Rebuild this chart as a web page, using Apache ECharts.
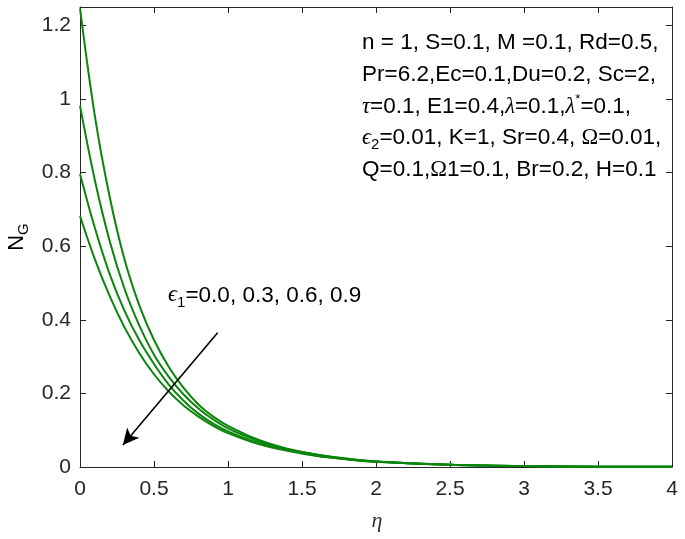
<!DOCTYPE html>
<html><head><meta charset="utf-8">
<script src="https://cdn.jsdelivr.net/npm/echarts@6/dist/echarts.min.js"></script>
<style>html,body{margin:0;padding:0;background:#fff}#c{width:685px;height:539px}</style>
</head><body><div id="c"></div>
<script>
// eta grid
const eta = [0,0.1,0.2,0.3,0.4,0.5,0.6,0.7,0.8,0.9,1.0,1.2,1.4,1.6,1.8,2.0,2.5,3.0,3.5,4.0];
// N_G for eps1 = 0.0, 0.3, 0.6, 0.9
const ng_e00 = [1.246,0.955,0.735,0.565,0.44,0.345,0.272,0.215,0.17,0.137,0.112,0.075,0.05,0.034,0.023,0.015,0.006,0.0025,0.001,0.0004];
const ng_e03 = [0.982,0.78,0.615,0.485,0.385,0.305,0.245,0.197,0.159,0.129,0.105,0.071,0.048,0.033,0.022,0.015,0.006,0.0025,0.001,0.0004];
const ng_e06 = [0.796,0.65,0.525,0.425,0.345,0.28,0.224,0.18,0.145,0.118,0.097,0.066,0.046,0.031,0.021,0.014,0.006,0.0025,0.001,0.0004];
const ng_e09 = [0.682,0.565,0.465,0.38,0.31,0.252,0.205,0.167,0.137,0.112,0.092,0.063,0.044,0.03,0.021,0.014,0.006,0.0025,0.001,0.0004];
// axes
const xMin = 0, xMax = 4, xStep = 0.5;
const yMin = 0, yMax = 1.25, yStep = 0.2;
// annotation arrow (data coords) and label
const arrowFrom = [0.93, 0.365];
const arrowTo = [0.29, 0.06];
const arrowLabelAt = [0.595, 0.466];
const paramLines = [
  '{t|n = 1, S=0.1, M =0.1, Rd=0.5,}',
  '{t|Pr=6.2,Ec=0.1,Du=0.2, Sc=2,}',
  '{g|τ}{t|=0.1, E1=0.4,}{g|λ}{t|=0.1,}{g|λ}{sup|*}{t|=0.1,}',
  '{g|ϵ}{sub|2}{t|=0.01, K=1, Sr=0.4, }{o|Ω}{t|=0.01,}',
  '{t|Q=0.1,}{o|Ω}{t|1=0.1, Br=0.2, H=0.1}'
];

const series = [ng_e00, ng_e03, ng_e06, ng_e09];
const green = '#0b850b';
const axisColor = '#262626';
const font = 'Liberation Sans';

const chart = echarts.init(document.getElementById('c'));
const mkX = (pos, labels) => ({
  type: 'value', min: xMin, max: xMax, interval: xStep, position: pos,
  axisLine: {show: true, onZero: false, lineStyle: {color: axisColor, width: 1}},
  axisTick: {show: true, inside: true, length: 6, lineStyle: {color: axisColor}},
  axisLabel: {show: labels, color: axisColor, fontSize: 21, fontFamily: font, margin: 12},
  splitLine: {show: false}
});
const mkY = (pos, labels) => ({
  type: 'value', min: yMin, max: yMax, interval: yStep, position: pos,
  axisLine: {show: true, onZero: false, lineStyle: {color: axisColor, width: 1}},
  axisTick: {show: true, inside: true, length: 6, lineStyle: {color: axisColor}},
  axisLabel: {show: labels, color: axisColor, fontSize: 21, fontFamily: font, margin: 9, showMaxLabel: false},
  splitLine: {show: false}
});

const FS = 22.5;
const sub = {fontSize: 15, fontFamily: font, color: '#222', verticalAlign: 'bottom', lineHeight: 15};
const sup = {fontSize: 13, fontFamily: font, color: '#222', verticalAlign: 'top', lineHeight: 12};

chart.setOption({
  animation: false,
  backgroundColor: '#fff',
  grid: {left: 80, right: 13, top: 7, bottom: 72, containLabel: false},
  xAxis: [mkX('bottom', true), mkX('top', false)],
  yAxis: [mkY('left', true), mkY('right', false)],
  series: series.map((vals, i) => ({
    type: 'line', xAxisIndex: 0, yAxisIndex: 0,
    data: eta.map((e, k) => [e, vals[k]]),
    smooth: 0.35, showSymbol: false,
    lineStyle: {color: green, width: 2},
    markLine: i === 0 ? {
      silent: true, symbol: ['none', 'arrow'], symbolSize: [12, 16],
      lineStyle: {color: '#000', width: 1.6, type: 'solid'},
      label: {show: false},
      data: [[{coord: arrowFrom}, {coord: arrowTo}]]
    } : undefined
  }))
});

const lp = chart.convertToPixel({gridIndex: 0}, arrowLabelAt);
const rich = {
  t: {fontSize: FS, fontFamily: font, color: '#222', lineHeight: 29},
  g: {fontSize: FS, fontFamily: 'Liberation Serif', fontStyle: 'italic', color: '#222', lineHeight: 29},
  o: {fontSize: FS, fontFamily: 'Liberation Serif', color: '#222', lineHeight: 29},
  sub: sub, sup: sup
};
const graphics = [
  {type: 'text', x: lp[0], y: lp[1], style: {
    text: '{g|ϵ}{sub|1}{t|=0.0, 0.3, 0.6, 0.9}', rich: rich, align: 'left', verticalAlign: 'middle'}},
  {type: 'text', x: 377, y: 521, style: {text: 'η', font: 'italic 22px "Liberation Serif"', fill: '#333', align: 'center', verticalAlign: 'middle'}},
  {type: 'text', x: 17, y: 237, rotation: Math.PI / 2, style: {
    text: '{n|N}{s|G}', rich: {n: {fontSize: 22, fontFamily: font, color: '#222', lineHeight: 28},
      s: {fontSize: 15, fontFamily: font, color: '#222', verticalAlign: 'bottom', lineHeight: 15}},
    align: 'center', verticalAlign: 'middle'}}
];
const lineYs = [43, 75, 107, 138, 170];
paramLines.forEach((txt, i) => {
  graphics.push({type: 'text', x: 362, y: lineYs[i], style: {text: txt, rich: rich, align: 'left', verticalAlign: 'middle'}});
});
chart.setOption({graphic: graphics});
</script>
</body></html>
